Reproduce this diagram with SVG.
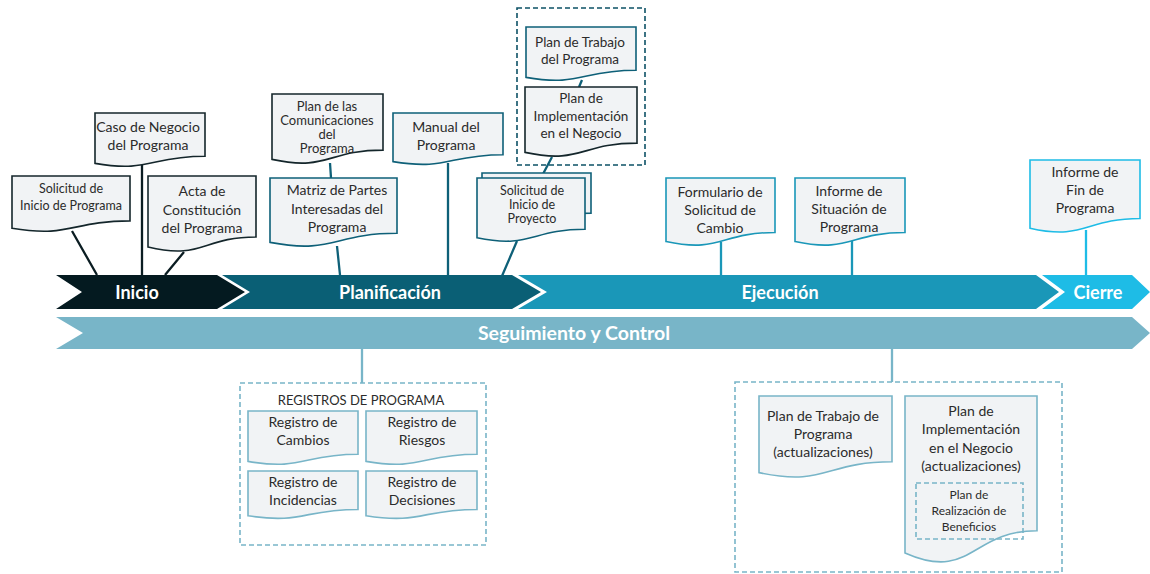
<svg xmlns="http://www.w3.org/2000/svg" width="1150" height="574" viewBox="0 0 1150 574">
<style>
text{font-family:Lato,"Liberation Sans",sans-serif;fill:#2b2b2b;text-anchor:middle}
.doc{fill:#f1f3f5;stroke-width:1.6}
.sd{stroke:#14262b}.st{stroke:#0e6078}.se{stroke:#1a97b8}.sc{stroke:#1ebce6}.ss{stroke:#78b5c8}
.t14{font-size:14px}.t13{font-size:13.5px}.t12{font-size:12.5px}.t11{font-size:12px}
.band{font-weight:bold;font-size:18px;fill:#ffffff}
.dash{fill:none;stroke-width:1.6;stroke-dasharray:5 3}
.ln{fill:none;stroke-width:2.3}
</style>
<rect width="1150" height="574" fill="#ffffff"/>
<g id="bands">
<path d="M56,275 H217 L245,292 L217,309 H56 L82,292 Z" fill="#041a20"/>
<path d="M222,275 H512 L541,292 L512,309 H222 L250,292 Z" fill="#0a5f75"/>
<path d="M518,275 H1036 L1059,292 L1036,309 H518 L547,292 Z" fill="#1a97b8"/>
<path d="M1042,275 H1132 L1150,292 L1132,309 H1042 L1065,292 Z" fill="#1ebce6"/>
<path d="M56,317 H1132 L1150,333 L1132,349 H56 L83,333 Z" fill="#78b5c8"/>
<text class="band" x="137" y="299">Inicio</text>
<text class="band" x="390" y="299">Planificación</text>
<text class="band" x="780" y="299">Ejecución</text>
<text class="band" x="1098" y="299">Cierre</text>
<text class="band" style="font-size:19.5px" x="574" y="340">Seguimiento y Control</text>
</g>
<g id="connectors">
<path class="ln" stroke="#0b1d22" d="M72,231 L97,275 M142,165 V275 M184,252 L165,275"/>
<path class="ln" stroke="#0e6078" d="M330,163 L331,178 M337,246 L340,275 M448,163 V275 M517,241 L502,276 M582,80 L579,87 M552,157 L543,174"/>
<path class="ln" stroke="#1a97b8" d="M721,242 V275 M852,230 V275"/>
<path class="ln" stroke="#1ebce6" d="M1086,230 V275"/>
<path class="ln" stroke="#78b5c8" d="M362,349 V383 M892,349 V382"/>
</g>
<g id="solicitud-inicio-programa">
<path class="doc sd" d="M12,176 H130 V220.9 C71,220.9 71,238 12,228.3 Z"/>
<text class="t12" x="71" y="193">Solicitud de<tspan x="71" dy="17">Inicio de Programa</tspan></text>
</g>
<g id="caso-negocio">
<path class="doc sd" d="M95,113 H205 V156.3 C150,156.3 150,172.8 95,163.4 Z"/>
<text class="t14" x="148" y="132">Caso de Negocio<tspan x="148" dy="18">del Programa</tspan></text>
</g>
<g id="acta-constitucion">
<path class="doc sd" d="M148,176 H256 V237 C202,237 202,260.2 148,247 Z"/>
<text class="t14" x="202" y="196">Acta de<tspan x="202" dy="18.5">Constitución</tspan><tspan x="202" dy="18.5">del Programa</tspan></text>
</g>
<g id="plan-comunicaciones">
<path class="doc sd" d="M272,94 H383 V150.1 C327.5,150.1 327.5,171.5 272,159.4 Z"/>
<text style="font-size:13px" x="327" y="111">Plan de las<tspan x="327" dy="14">Comunicaciones</tspan><tspan x="327" dy="14">del</tspan><tspan x="327" dy="14">Programa</tspan></text>
</g>
<g id="matriz-partes">
<path class="doc st" d="M270,178 H397 V233.3 C333.5,233.3 333.5,254.4 270,242.4 Z"/>
<text class="t14" x="337" y="195">Matriz de Partes<tspan x="337" dy="18.5">Interesadas del</tspan><tspan x="337" dy="18.5">Programa</tspan></text>
</g>
<g id="manual-programa">
<path class="doc st" d="M393,113 H503 V154.7 C448,154.7 448,170.6 393,161.6 Z"/>
<text class="t14" x="446" y="132">Manual del<tspan x="446" dy="17.5">Programa</tspan></text>
</g>
<g id="solicitud-inicio-proyecto">
<path class="doc st" d="M482,173 H591 V213.1 C536.5,213.1 536.5,228.4 482,219.7 Z"/>
<path class="doc st" d="M477,178 H585 V229.3 C531,229.3 531,248.9 477,237.8 Z"/>
<text class="t12" x="532" y="195">Solicitud  de<tspan x="532" dy="14">Inicio de</tspan><tspan x="532" dy="14">Proyecto</tspan></text>
</g>
<g id="grupo-planes">
<rect class="dash" x="517" y="8" width="128" height="157" stroke="#0d5266"/>
</g>
<g id="plan-trabajo">
<path class="doc st" d="M526,27 H636 V70.3 C581,70.3 581,86.8 526,77.4 Z"/>
<text class="t13" x="580" y="47">Plan de Trabajo<tspan x="580" dy="17">del Programa</tspan></text>
</g>
<g id="plan-implementacion">
<path class="doc sd" d="M525,87 H637 V143.1 C581,143.1 581,164.5 525,152.4 Z"/>
<text class="t13" x="581" y="103">Plan de<tspan x="581" dy="17.5">Implementación</tspan><tspan x="581" dy="17.5">en el Negocio</tspan></text>
</g>
<g id="formulario-cambio">
<path class="doc se" d="M666,178 H775 V232.5 C720.5,232.5 720.5,253.3 666,241.5 Z"/>
<text class="t14" x="720" y="197">Formulario de<tspan x="720" dy="18">Solicitud de</tspan><tspan x="720" dy="18">Cambio</tspan></text>
</g>
<g id="informe-situacion">
<path class="doc se" d="M795,178 H905 V232.5 C850,232.5 850,253.3 795,241.5 Z"/>
<text class="t14" x="849" y="196">Informe de<tspan x="849" dy="18">Situación de</tspan><tspan x="849" dy="18">Programa</tspan></text>
</g>
<g id="informe-fin">
<path class="doc sc" d="M1030,160 H1140 V218.5 C1085,218.5 1085,240.8 1030,228.2 Z"/>
<text class="t14" x="1085" y="177">Informe de<tspan x="1085" dy="18">Fin de</tspan><tspan x="1085" dy="18">Programa</tspan></text>
</g>
<g id="registros-programa">
<rect class="dash" x="240" y="383" width="246" height="162" stroke="#78b5c8"/>
<text style="font-size:13px" x="361" y="405">REGISTROS DE PROGRAMA</text>
</g>
<g id="registro-cambios">
<path class="doc ss" d="M248,411 H358 V454.3 C303,454.3 303,470.8 248,461.4 Z"/>
<text class="t14" x="303" y="427">Registro de<tspan x="303" dy="18">Cambios</tspan></text>
</g>
<g id="registro-riesgos">
<path class="doc ss" d="M366,411 H477 V454.3 C421.5,454.3 421.5,470.8 366,461.4 Z"/>
<text class="t14" x="422" y="427">Registro de<tspan x="422" dy="18">Riesgos</tspan></text>
</g>
<g id="registro-incidencias">
<path class="doc ss" d="M248,471 H358 V509.5 C303,509.5 303,524.2 248,515.8 Z"/>
<text class="t14" x="303" y="487">Registro de<tspan x="303" dy="18">Incidencias</tspan></text>
</g>
<g id="registro-decisiones">
<path class="doc ss" d="M366,471 H477 V509.5 C421.5,509.5 421.5,524.2 366,515.8 Z"/>
<text class="t14" x="422" y="487">Registro de<tspan x="422" dy="18">Decisiones</tspan></text>
</g>
<g id="actualizaciones">
<rect class="dash" x="735" y="382" width="327" height="190" stroke="#78b5c8"/>
</g>
<g id="plan-trabajo-act">
<path class="doc ss" d="M759,396 H892 V461.8 C825.5,461.8 825.5,486.8 759,472.6 Z"/>
<text class="t14" x="823" y="421">Plan de Trabajo de<tspan x="823" dy="18">Programa</tspan><tspan x="823" dy="18">(actualizaciones)</tspan></text>
</g>
<g id="plan-implementacion-act">
<path class="doc ss" d="M905,396 H1037 V530.7 C971,530.7 971,582.1 905,552.9 Z"/>
<text class="t14" x="971" y="416">Plan de<tspan x="971" dy="18.3">Implementación</tspan><tspan x="971" dy="18.3">en el Negocio</tspan><tspan x="971" dy="18.3">(actualizaciones)</tspan></text>
</g>
<g id="plan-beneficios">
<rect class="dash" x="916" y="483" width="107" height="56" stroke="#78b5c8"/>
<text class="t11" x="969" y="499">Plan de<tspan x="969" dy="16">Realización de</tspan><tspan x="969" dy="16">Beneficios</tspan></text>
</g>
</svg>
